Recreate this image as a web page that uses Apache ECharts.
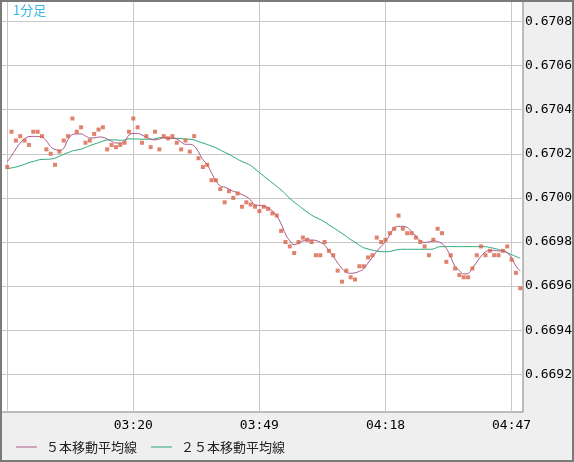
<!DOCTYPE html>
<html>
<head>
<meta charset="utf-8">
<script src="https://cdn.jsdelivr.net/npm/echarts@6/dist/echarts.min.js"></script>
<style>
html,body{margin:0;padding:0;background:#efefef;}
#wrap{position:relative;width:574px;height:462px;}
#chart{position:absolute;left:0;top:0;width:574px;height:462px;}
#frame{position:absolute;left:0;top:0;width:574px;height:462px;box-sizing:border-box;border:2px solid #7a7a7a;pointer-events:none;z-index:10;}
</style>
</head>
<body>
<div id="wrap"><div id="chart"></div><div id="frame"></div></div>
<script>
// ---- data (one bar per minute, first bar 02:51) ----
const firstBar = '02:51';
const tickLabels = ['03:20', '03:49', '04:18', '04:47'];
const yTicks = [0.6692, 0.6694, 0.6696, 0.6698, 0.6700, 0.6702, 0.6704, 0.6706, 0.6708];

const close = [
  0.67014, 0.67030, 0.67026, 0.67028, 0.67026, 0.67024, 0.67030, 0.67030, 0.67028, 0.67022,
  0.67020, 0.67015, 0.67021, 0.67026, 0.67028, 0.67036, 0.67030, 0.67032, 0.67025, 0.67026,
  0.67029, 0.67031, 0.67032, 0.67022, 0.67024, 0.67023, 0.67024, 0.67025, 0.67030, 0.67036,
  0.67032, 0.67025, 0.67028, 0.67023, 0.67030, 0.67022, 0.67028, 0.67027, 0.67028, 0.67025,
  0.67022, 0.67026, 0.67021, 0.67028, 0.67018, 0.67014, 0.67015, 0.67008, 0.67008, 0.67004,
  0.66998, 0.67003, 0.67000, 0.67002, 0.66996, 0.66998, 0.66997, 0.66996, 0.66994, 0.66996,
  0.66995, 0.66993, 0.66992, 0.66985, 0.66980, 0.66978, 0.66975, 0.66980, 0.66982, 0.66981,
  0.66980, 0.66974, 0.66974, 0.66980, 0.66976, 0.66974, 0.66967, 0.66962, 0.66967, 0.66964,
  0.66963, 0.66969, 0.66969, 0.66973, 0.66974, 0.66982, 0.66980, 0.66981, 0.66984, 0.66986,
  0.66992, 0.66986, 0.66984, 0.66984, 0.66982, 0.66980, 0.66978, 0.66974, 0.66981, 0.66986,
  0.66984, 0.66971, 0.66974, 0.66968, 0.66965, 0.66964, 0.66964, 0.66968, 0.66974, 0.66978,
  0.66974, 0.66976, 0.66974, 0.66974, 0.66976, 0.66978, 0.66972, 0.66966, 0.66959
];

const ma5 = [
  0.670164, 0.670191, 0.670222, 0.670249, 0.670268, 0.670278, 0.670279, 0.670278, 0.670276, 0.670259,
  0.670232, 0.670220, 0.670216, 0.670225, 0.670266, 0.670287, 0.670290, 0.670290, 0.670281, 0.670272,
  0.670272, 0.670276, 0.670275, 0.670267, 0.670257, 0.670249, 0.670249, 0.670256, 0.670285, 0.670292,
  0.670292, 0.670285, 0.670274, 0.670266, 0.670263, 0.670267, 0.670273, 0.670270, 0.670270, 0.670267,
  0.670253, 0.670243, 0.670243, 0.670235, 0.670208, 0.670174, 0.670151, 0.670113, 0.670077, 0.670054,
  0.670049, 0.670040, 0.670030, 0.670024, 0.670015, 0.670006, 0.669990, 0.669968, 0.669966, 0.669963,
  0.669956, 0.669941, 0.669918, 0.669882, 0.669836, 0.669805, 0.669788, 0.669794, 0.669805, 0.669809,
  0.669809, 0.669807, 0.669798, 0.669786, 0.669759, 0.669734, 0.669705, 0.669680, 0.669662, 0.669658,
  0.669660, 0.669667, 0.669678, 0.669705, 0.669731, 0.669758, 0.669780, 0.669802, 0.669832, 0.669863,
  0.669871, 0.669871, 0.669866, 0.669848, 0.669827, 0.669806, 0.669798, 0.669800, 0.669805, 0.669802,
  0.669793, 0.669771, 0.669732, 0.669689, 0.669671, 0.669655, 0.669657, 0.669682, 0.669709, 0.669736,
  0.669755, 0.669762, 0.669762, 0.669759, 0.669760, 0.669752, 0.669727, 0.669691, 0.669668
];

const ma25 = [
  0.670132, 0.670136, 0.670140, 0.670146, 0.670152, 0.670160, 0.670165, 0.670171, 0.670175, 0.670175,
  0.670176, 0.670180, 0.670189, 0.670198, 0.670205, 0.670213, 0.670217, 0.670221, 0.670229, 0.670237,
  0.670244, 0.670250, 0.670257, 0.670263, 0.670263, 0.670263, 0.670261, 0.670263, 0.670268, 0.670267,
  0.670267, 0.670266, 0.670266, 0.670266, 0.670267, 0.670273, 0.670273, 0.670272, 0.670270, 0.670270,
  0.670269, 0.670267, 0.670266, 0.670263, 0.670255, 0.670249, 0.670242, 0.670235, 0.670227, 0.670217,
  0.670207, 0.670198, 0.670187, 0.670175, 0.670165, 0.670157, 0.670147, 0.670131, 0.670115, 0.670099,
  0.670083, 0.670068, 0.670052, 0.670036, 0.670018, 0.669997, 0.669981, 0.669966, 0.669950, 0.669936,
  0.669922, 0.669911, 0.669902, 0.669891, 0.669877, 0.669866, 0.669852, 0.669839, 0.669825, 0.669811,
  0.669799, 0.669785, 0.669774, 0.669768, 0.669763, 0.669759, 0.669756, 0.669756, 0.669757, 0.669762,
  0.669766, 0.669767, 0.669767, 0.669767, 0.669767, 0.669767, 0.669767, 0.669767, 0.669768, 0.669777,
  0.669779, 0.669779, 0.669779, 0.669779, 0.669779, 0.669779, 0.669779, 0.669779, 0.669779, 0.669779,
  0.669779, 0.669775, 0.669771, 0.669766, 0.669759, 0.669752, 0.669743, 0.669734, 0.669726
];

// ---- helpers ----
const startMin = parseInt(firstBar.slice(0, 2), 10) * 60 + parseInt(firstBar.slice(3), 10);
function timeOf(i) {
  const m = startMin + i;
  const hh = Math.floor(m / 60), mm = m % 60;
  return (hh < 10 ? '0' : '') + hh + ':' + (mm < 10 ? '0' : '') + mm;
}
const pts = (arr) => arr.map((v, i) => [i, v]);

const chart = echarts.init(document.getElementById('chart'), null, { renderer: 'canvas' });
const monoFont = 'DejaVu Sans Mono';
const jpFont = '"Noto Sans CJK JP", sans-serif';

chart.setOption({
  animation: false,
  backgroundColor: '#efefef',
  title: {
    text: '1分足',
    left: 13, top: 4, padding: 0,
    textStyle: { color: '#3ab4e4', fontSize: 13, fontWeight: 'normal', fontFamily: jpFont }
  },
  legend: {
    left: 16, top: 440, padding: 0,
    icon: 'rect', itemWidth: 21, itemHeight: 1, itemGap: 14,
    data: ['５本移動平均線', '２５本移動平均線'],
    textStyle: { color: '#222', fontSize: 13, fontFamily: jpFont, padding: [0, 0, 0, 4], lineHeight: 14 }
  },
  grid: {
    left: 1, top: 1, right: 51, bottom: 50,
    show: true, backgroundColor: '#ffffff', borderColor: '#808080', borderWidth: 1,
    containLabel: false, outerBoundsMode: 'none'
  },
  xAxis: {
    type: 'value',
    min: -1.426, max: 118.63,
    minInterval: 29, maxInterval: 29,
    axisLine: { show: false }, axisTick: { show: false },
    splitLine: { show: true, showMinLine: false, showMaxLine: false, lineStyle: { color: '#c8c8c8', width: 1 } },
    axisLabel: {
      margin: 7, color: '#000', fontSize: 13, fontFamily: monoFont,
      showMinLabel: false, showMaxLabel: false,
      formatter: function (v) {
        const r = Math.round(v);
        if (Math.abs(v - r) > 1e-6) return '';
        const t = timeOf(r);
        return tickLabels.indexOf(t) >= 0 ? t : '';
      }
    }
  },
  yAxis: {
    type: 'value', position: 'right',
    min: 0.669029, max: 0.6708929,
    minInterval: 0.0002, maxInterval: 0.0002,
    axisLine: { show: false }, axisTick: { show: false },
    splitLine: { show: true, showMinLine: false, showMaxLine: false, lineStyle: { color: '#c8c8c8', width: 1 } },
    axisLabel: {
      margin: 2, color: '#000', fontSize: 13, fontFamily: monoFont, align: 'left',
      showMinLabel: false, showMaxLabel: false,
      formatter: function (v) {
        for (let k = 0; k < yTicks.length; k++) {
          if (Math.abs(v - yTicks[k]) < 1e-7) return yTicks[k].toFixed(4);
        }
        return '';
      }
    }
  },
  series: [
    {
      name: '２５本移動平均線', type: 'line', data: pts(ma25),
      showSymbol: false, smooth: 0.3, z: 2,
      lineStyle: { color: '#2ba876', width: 1 }, itemStyle: { color: '#2ba876' }
    },
    {
      name: '５本移動平均線', type: 'line', data: pts(ma5),
      showSymbol: false, smooth: 0.4, z: 3,
      lineStyle: { color: '#a85a8a', width: 1 }, itemStyle: { color: '#a85a8a' }
    },
    {
      name: '終値', type: 'scatter', data: pts(close),
      symbol: 'rect', symbolSize: 4, z: 4,
      itemStyle: { color: '#d9634a' }
    }
  ]
});
</script>
</body>
</html>
